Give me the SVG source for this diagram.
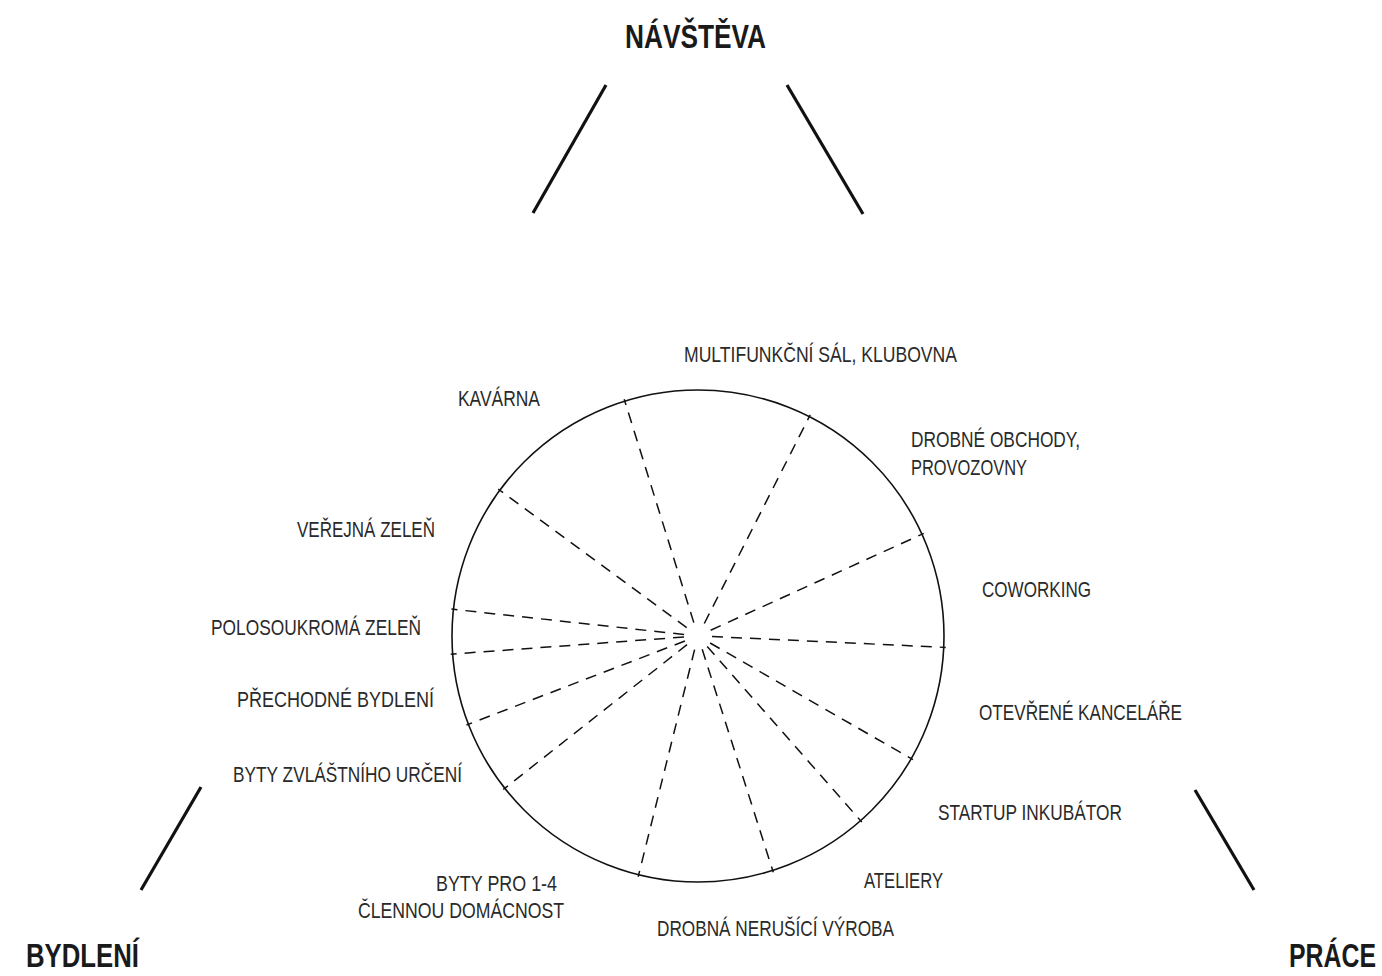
<svg xmlns="http://www.w3.org/2000/svg" width="1382" height="976" viewBox="0 0 1382 976">
<style>
.bg{fill:#fff}
.ring{fill:none;stroke:#111;stroke-width:1.6}
.spoke{stroke:#111;stroke-width:1.5;stroke-dasharray:11 8;fill:none}
.edge{stroke:#111;stroke-width:3.2;fill:none}
.lbl{font-family:"Liberation Sans Narrow","Liberation Sans",Arial,sans-serif;font-size:22.5px;fill:#2a2a2a}
.ttl{font-family:"Liberation Sans Narrow","Liberation Sans",Arial,sans-serif;font-size:34px;font-weight:bold;fill:#1a1a1a}
</style>
<rect class="bg" x="0" y="0" width="1382" height="976"/>
<g id="connectors">
<line class="edge" x1="606" y1="85" x2="533" y2="213"/>
<line class="edge" x1="787" y1="85" x2="863" y2="214"/>
<line class="edge" x1="201" y1="787" x2="141" y2="890"/>
<line class="edge" x1="1195" y1="790" x2="1254" y2="890"/>
</g>
<g id="wheel">
<circle class="ring" cx="698" cy="636" r="246"/>
<line class="spoke" x1="693.8" y1="622.6" x2="624.2" y2="399.2"/>
<line class="spoke" x1="704.3" y1="623.5" x2="810.2" y2="414.9"/>
<line class="spoke" x1="686.7" y1="627.7" x2="498.2" y2="489"/>
<line class="spoke" x1="710.7" y1="630.2" x2="923.8" y2="533.4"/>
<line class="spoke" x1="684.1" y1="634.5" x2="451.4" y2="609.1"/>
<line class="spoke" x1="684" y1="637" x2="450.7" y2="654.2"/>
<line class="spoke" x1="684.9" y1="641" x2="466.5" y2="725"/>
<line class="spoke" x1="687" y1="644.7" x2="503.2" y2="789.5"/>
<line class="spoke" x1="694.6" y1="649.6" x2="638.2" y2="876.7"/>
<line class="spoke" x1="702.2" y1="649.3" x2="773.3" y2="872.3"/>
<line class="spoke" x1="707.2" y1="646.5" x2="861.8" y2="822.1"/>
<line class="spoke" x1="710.1" y1="643" x2="913" y2="759.7"/>
<line class="spoke" x1="712" y1="636.6" x2="945.7" y2="647.4"/>
</g>
<g id="navsteva"><text class="ttl" x="625" y="48" textLength="141" lengthAdjust="spacingAndGlyphs">NÁVŠTĚVA</text></g>
<g id="bydleni"><text class="ttl" x="26" y="967" textLength="113" lengthAdjust="spacingAndGlyphs">BYDLENÍ</text></g>
<g id="prace"><text class="ttl" x="1289" y="967" textLength="87" lengthAdjust="spacingAndGlyphs">PRÁCE</text></g>
<g id="multifunkcni"><text class="lbl" x="684" y="362" textLength="273" lengthAdjust="spacingAndGlyphs">MULTIFUNKČNÍ SÁL, KLUBOVNA</text></g>
<g id="kavarna"><text class="lbl" x="458" y="406" textLength="82" lengthAdjust="spacingAndGlyphs">KAVÁRNA</text></g>
<g id="drobne-obchody"><text class="lbl" x="911" y="447" textLength="169" lengthAdjust="spacingAndGlyphs">DROBNÉ OBCHODY,</text><text class="lbl" x="911" y="475" textLength="116" lengthAdjust="spacingAndGlyphs">PROVOZOVNY</text></g>
<g id="verejna-zelen"><text class="lbl" x="297" y="537" textLength="138" lengthAdjust="spacingAndGlyphs">VEŘEJNÁ ZELEŇ</text></g>
<g id="coworking"><text class="lbl" x="982" y="597" textLength="109" lengthAdjust="spacingAndGlyphs">COWORKING</text></g>
<g id="polosoukroma"><text class="lbl" x="211" y="635" textLength="210" lengthAdjust="spacingAndGlyphs">POLOSOUKROMÁ ZELEŇ</text></g>
<g id="prechodne"><text class="lbl" x="237" y="707" textLength="197" lengthAdjust="spacingAndGlyphs">PŘECHODNÉ BYDLENÍ</text></g>
<g id="otevrene"><text class="lbl" x="979" y="720" textLength="203" lengthAdjust="spacingAndGlyphs">OTEVŘENÉ KANCELÁŘE</text></g>
<g id="byty-zvlastni"><text class="lbl" x="233" y="782" textLength="229" lengthAdjust="spacingAndGlyphs">BYTY ZVLÁŠTNÍHO URČENÍ</text></g>
<g id="startup"><text class="lbl" x="938" y="820" textLength="184" lengthAdjust="spacingAndGlyphs">STARTUP INKUBÁTOR</text></g>
<g id="ateliery"><text class="lbl" x="864" y="888" textLength="79" lengthAdjust="spacingAndGlyphs">ATELIERY</text></g>
<g id="byty-pro"><text class="lbl" x="436" y="891" textLength="121" lengthAdjust="spacingAndGlyphs">BYTY PRO 1-4</text><text class="lbl" x="358" y="918" textLength="206" lengthAdjust="spacingAndGlyphs">ČLENNOU DOMÁCNOST</text></g>
<g id="drobna-vyroba"><text class="lbl" x="657" y="936" textLength="237" lengthAdjust="spacingAndGlyphs">DROBNÁ NERUŠÍCÍ VÝROBA</text></g>
</svg>
